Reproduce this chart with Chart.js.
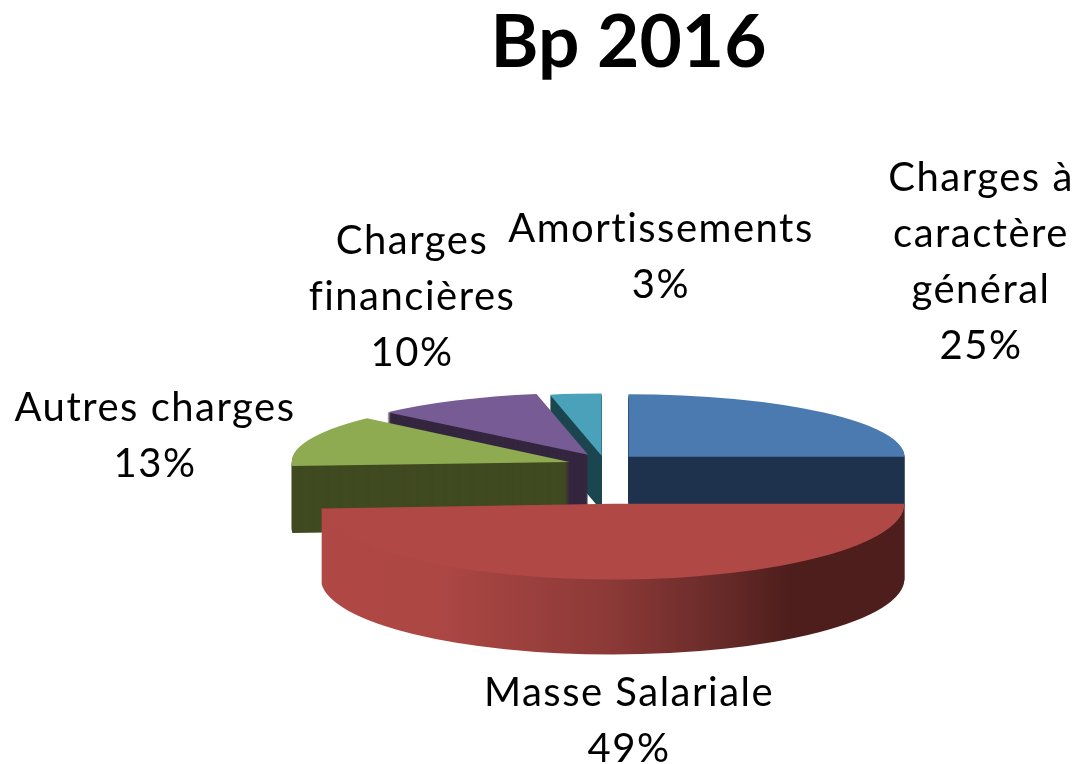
<!DOCTYPE html>
<html lang="fr">
<head>
<meta charset="utf-8">
<title>Bp 2016</title>
<script src="https://cdn.jsdelivr.net/npm/chart.js@4/dist/chart.umd.min.js"></script>
<style>
  html, body { margin: 0; background: #fff; }
  canvas { display: block; }
</style>
</head>
<body>
<canvas id="chart-bp" width="1079" height="764"></canvas>
<script>
const categories = ["Charges à caractère général", "Masse Salariale", "Autres charges", "Charges financières", "Amortissements"];
const values = [25, 49, 13, 10, 3];
const labelLines = [
  ["Charges à", "caractère", "général"],
  ["Masse Salariale"],
  ["Autres charges"],
  ["Charges", "financières"],
  ["Amortissements"],
];
const topColors = ["#4a7ab0", "#b04845", "#8fab52", "#775b94", "#4aa1ba"];
const sideColors = ["#1f334e", "#b04845", "#404a21", "#35263f", "#1b4650"];
const explode = [34, 70, 40, 32, 26];
const sliceDepth = [50, 75, 67, 55, 55];

// label placement: centre x and y of the first line
const labelPos = [[981, 178], [629, 693], [155, 408], [412, 241], [661, 229]];
const lineHeight = 56;
const drawOrder = [0, 4, 3, 2, 1];

const pieShiftX = -18;
const pieShiftY = 39;
const pieRadius = 280;
const tilt = 0.235;

const place = (el, i) => {
  const { x, y, startAngle, endAngle } = el;
  const mid = (startAngle + endAngle) / 2;
  const sin = Math.sin(mid);
  // back slices lean left, the way the camera sees them
  const dx = (Math.cos(mid) + Math.min(sin, 0) * 0.25) * explode[i];
  const dy = sin * explode[i] * 0.5;
  return {
    x, y, startAngle, endAngle,
    cx: x + pieShiftX + dx,
    cy: y + pieShiftY + dy,
    grow: 1 + dy * 0.0012,
    ry: tilt * (1 + dy * 0.003),
  };
};

const redSide = (ctx) => {
  const g = ctx.createLinearGradient(322, 0, 905, 0);
  g.addColorStop(0, "#b04845");
  g.addColorStop(0.2, "#ac4744");
  g.addColorStop(0.5, "#8b3937");
  g.addColorStop(0.7, "#642927");
  g.addColorStop(0.8, "#4e1e1c");
  g.addColorStop(1, "#4e1e1c");
  return g;
};

const pie3d = {
  id: "pie3d",
  beforeDatasetsDraw(chart) {
    const { ctx } = chart;
    const arcs = chart.getDatasetMeta(0).data;
    drawOrder.forEach((i) => {
      const el = arcs[i];
      const p = place(el, i);
      const rx = el.outerRadius * p.grow;
      const ry = rx * p.ry;
      ctx.save();
      ctx.fillStyle = i === 1 ? redSide(ctx) : sideColors[i];
      for (let d = sliceDepth[i]; d >= 1; d--) {
        ctx.beginPath();
        ctx.moveTo(p.cx, p.cy + d);
        ctx.ellipse(p.cx, p.cy + d, rx, ry, 0, p.startAngle, p.endAngle);
        ctx.closePath();
        ctx.fill();
      }
      ctx.restore();

      ctx.save();
      ctx.translate(p.cx, p.cy);
      ctx.scale(p.grow, p.grow * p.ry);
      ctx.translate(-p.x, -p.y);
      el.draw(ctx);
      ctx.restore();
    });
    return false;
  },
  afterDraw(chart) {
    const { ctx } = chart;
    ctx.save();
    ctx.font = "40px Lato";
    ctx.letterSpacing = "1.5px";
    ctx.fillStyle = "#000";
    ctx.textAlign = "center";
    ctx.textBaseline = "middle";
    labelLines.forEach((lines, i) => {
      const [lx, ly] = labelPos[i];
      [...lines, `${values[i]}%`].forEach((line, n) => {
        ctx.fillText(line, lx, ly + n * lineHeight);
      });
    });
    ctx.restore();
  },
};

new Chart(document.querySelector("#chart-bp"), {
  type: "pie",
  data: {
    labels: categories,
    datasets: [{ data: values, backgroundColor: topColors, borderWidth: 0 }],
  },
  options: {
    responsive: false,
    animation: false,
    radius: pieRadius,
    layout: { padding: { left: 178 } },
    plugins: {
      legend: { display: false },
      tooltip: { enabled: false },
      title: {
        display: true,
        text: "Bp 2016",
        color: "#000",
        font: { family: "Lato", size: 73, weight: "bold" },
        padding: { top: 0, bottom: 8 },
      },
    },
  },
  plugins: [pie3d],
});
</script>
</body>
</html>
